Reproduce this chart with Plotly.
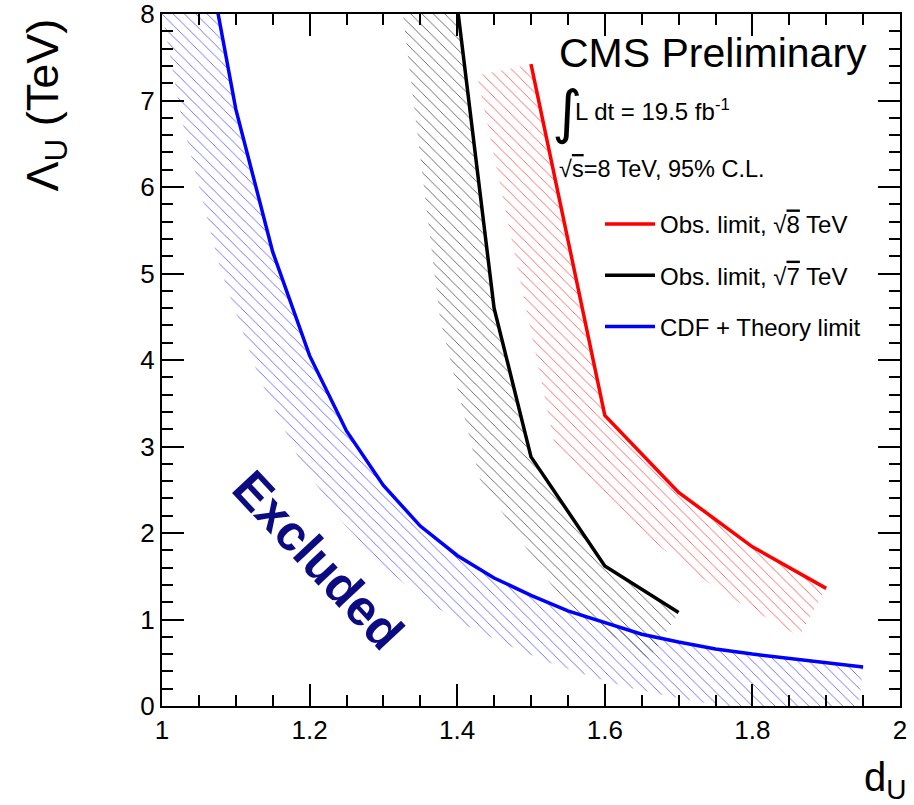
import numpy as np
import plotly.graph_objects as go

# ---------------- data ----------------
d_cdf = [1.05, 1.10, 1.15, 1.20, 1.25, 1.30, 1.35, 1.40, 1.45, 1.50,
         1.55, 1.60, 1.65, 1.70, 1.75, 1.80, 1.85, 1.90, 1.95]
lam_cdf = [9.2, 6.9, 5.25, 4.05, 3.18, 2.55, 2.08, 1.74, 1.48, 1.28,
           1.10, 0.96, 0.83, 0.74, 0.66, 0.60, 0.55, 0.50, 0.45]

d_7tev = [1.40, 1.45, 1.50, 1.60, 1.70]
lam_7tev = [8.1, 4.6, 2.88, 1.62, 1.08]

d_8tev = [1.50, 1.60, 1.70, 1.80, 1.90]
lam_8tev = [7.42, 3.36, 2.47, 1.84, 1.36]

x_tickvals = [1, 1.2, 1.4, 1.6, 1.8, 2]
x_ticktext = ["1", "1.2", "1.4", "1.6", "1.8", "2"]
y_tickvals = [0, 1, 2, 3, 4, 5, 6, 7, 8]
y_ticktext = ["0", "1", "2", "3", "4", "5", "6", "7", "8"]

# ---------------- layout geometry ----------------
W, H = 914, 805
M = dict(l=162, r=14, t=14, b=99)
XR = [1, 2]
YR = [0, 8]
sx = (W - M["l"] - M["r"]) / (XR[1] - XR[0])
sy = (H - M["t"] - M["b"]) / (YR[1] - YR[0])
BAND_PX = 55  # width of the hatched band (pixels), ROOT-style one-sided band


def band_polygon(xs, ys, w):
    P = np.column_stack([np.asarray(xs, float) * sx, np.asarray(ys, float) * sy])
    seg = np.diff(P, axis=0)
    seg /= np.linalg.norm(seg, axis=1)[:, None]
    nrm = np.column_stack([seg[:, 1], -seg[:, 0]])  # right-hand normal (lower-left side)
    vn = np.zeros_like(P)
    vn[0] = nrm[0]
    vn[-1] = nrm[-1]
    for i in range(1, len(P) - 1):
        m = nrm[i - 1] + nrm[i]
        m /= np.linalg.norm(m)
        vn[i] = m / np.dot(m, nrm[i - 1])
    Q = P + w * vn
    poly = np.vstack([P, Q[::-1], P[:1]])
    return poly[:, 0] / sx, poly[:, 1] / sy


FONT = "Liberation Sans, Arial, Helvetica, sans-serif"

fig = go.Figure()

series = [
    (d_cdf, lam_cdf, "#0000ff", "rgba(80,80,255,0.9)", "CDF + Theory limit"),
    (d_7tev, lam_7tev, "#000000", "rgba(60,60,60,0.85)", "Obs. limit, √<span style='text-decoration:overline'>7</span> TeV"),
    (d_8tev, lam_8tev, "#ff0000", "rgba(255,70,70,0.9)", "Obs. limit, √<span style='text-decoration:overline'>8</span> TeV"),
]

# hatched bands
for xs, ys, lc, hc, name in series:
    bx, by = band_polygon(xs, ys, BAND_PX)
    fig.add_trace(go.Scatter(
        x=bx, y=by, mode="lines", fill="toself",
        line=dict(width=0, color="rgba(0,0,0,0)"),
        fillcolor="rgba(0,0,0,0)",
        fillpattern=dict(shape="\\", fgcolor=hc, bgcolor="rgba(0,0,0,0)",
                         size=8, solidity=0.11),
        hoverinfo="skip", showlegend=False,
    ))

# limit lines (legend order: red, black, blue)
legend_rank = {"#ff0000": 1, "#000000": 2, "#0000ff": 3}
for xs, ys, lc, hc, name in series:
    fig.add_trace(go.Scatter(
        x=xs, y=ys, mode="lines", name=name,
        line=dict(color=lc, width=3.5),
        legendgroup=name, legendrank=legend_rank[lc],
    ))

axis_common = dict(
    showline=True, linecolor="black", linewidth=2, mirror="ticks",
    ticks="inside", ticklen=22, tickwidth=1.5, tickcolor="black",
    showgrid=False, zeroline=False, automargin=False, ticklabeloverflow="allow",
    tickfont=dict(family=FONT, size=26, color="black"),
)

fig.update_xaxes(range=XR, tickmode="array", tickvals=x_tickvals, ticktext=x_ticktext,
                 minor=dict(ticks="inside", ticklen=11, tickwidth=1.5, dtick=0.05, tick0=1,
                            tickcolor="black", showgrid=False),
                 **axis_common)
fig.update_yaxes(range=YR, tickmode="array", tickvals=y_tickvals, ticktext=y_ticktext,
                 minor=dict(ticks="inside", ticklen=11, tickwidth=1.5, dtick=0.2, tick0=0,
                            tickcolor="black", showgrid=False),
                 **axis_common)


def px_to_paper(px, py):
    return (px - M["l"]) / (W - M["l"] - M["r"]), (H - M["b"] - py) / (H - M["t"] - M["b"])


annos = []
# CMS Preliminary
x0, y0 = px_to_paper(557, 53)
annos.append(dict(text="CMS Preliminary", x=x0, y=y0, xanchor="left", yanchor="middle",
                  font=dict(family=FONT, size=41, color="black")))
# integral
x0, y0 = px_to_paper(550, 112)
annos.append(dict(text="∫", x=x0, y=y0, xanchor="left", yanchor="middle",
                  font=dict(family="DejaVu Sans, sans-serif", size=58, color="black")))
x0, y0 = px_to_paper(573, 110)
annos.append(dict(text="L dt = 19.5 fb<sup>-1</sup>", x=x0, y=y0, xanchor="left", yanchor="middle",
                  font=dict(family=FONT, size=24, color="black")))
x0, y0 = px_to_paper(557, 169)
annos.append(dict(text="√<span style='text-decoration:overline'>s</span>=8 TeV, 95% C.L.",
                  x=x0, y=y0, xanchor="left", yanchor="middle",
                  font=dict(family=FONT, size=23.5, color="black")))
# Excluded
x0, y0 = px_to_paper(318, 560)
annos.append(dict(text="<b>Excluded</b>", x=x0, y=y0, xanchor="center", yanchor="middle",
                  textangle=47, font=dict(family=FONT, size=50, color="#0c0c80")))
# axis titles
x0, y0 = px_to_paper(45, 17)
annos.append(dict(text="Λ<sub>U</sub> (TeV)", x=x0, y=y0, xanchor="center", yanchor="top",
                  textangle=-90, font=dict(family=FONT, size=45, color="black")))
x0, y0 = px_to_paper(908, 780)
annos.append(dict(text="d<sub>U</sub>", x=x0, y=y0, xanchor="right", yanchor="middle",
                  font=dict(family=FONT, size=40, color="black")))

for a in annos:
    a.update(xref="paper", yref="paper", showarrow=False)

lx, ly = px_to_paper(600, 202)
fig.update_layout(
    template="none",
    width=W, height=H, margin=M,
    paper_bgcolor="white", plot_bgcolor="white",
    annotations=annos,
    legend=dict(x=lx, y=ly, xanchor="left", yanchor="top",
                font=dict(family=FONT, size=24, color="black"),
                bgcolor="rgba(0,0,0,0)", borderwidth=0, tracegroupgap=17, itemwidth=50),
    showlegend=True,
)

fig.write_html("out.html")
